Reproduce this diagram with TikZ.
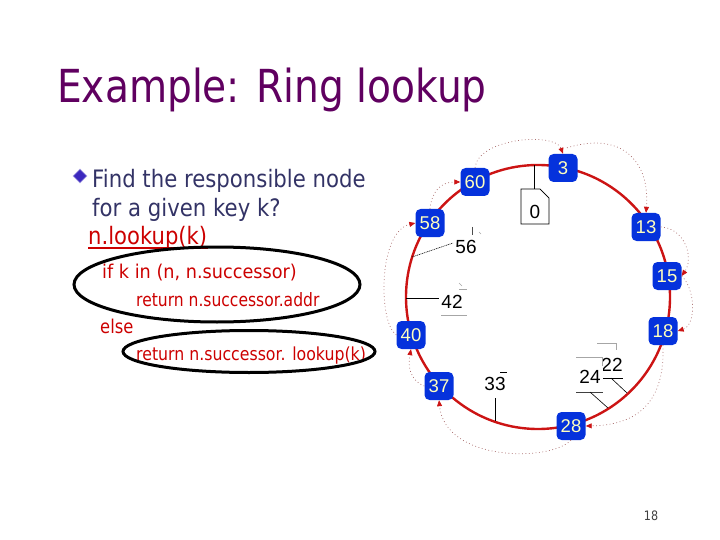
\documentclass[tikz,border=0pt]{standalone}
\usepackage{fontspec}
\usepackage{graphicx}
\setmainfont{DejaVu Sans}
\newfontfamily\arialf{Liberation Sans}
\usetikzlibrary{arrows.meta,shapes.geometric}
\definecolor{titlepurple}{RGB}{96,0,96}
\definecolor{bodyblue}{RGB}{51,51,102}
\definecolor{codered}{RGB}{204,0,0}
\definecolor{ringred}{RGB}{204,20,20}
\definecolor{nodeblue}{RGB}{5,50,220}
\definecolor{nodetext}{RGB}{255,255,190}
\definecolor{bulletblue}{RGB}{60,40,190}
\definecolor{fingercol}{RGB}{170,110,110}
\newcommand{\sqz}[2]{\scalebox{#1}[1]{#2}}
\tikzset{
  txt/.style={anchor=base west, inner sep=0pt},
  ringnode/.style={fill=nodeblue, rounded corners=5pt, minimum width=29pt, minimum height=28pt, inner sep=0pt,
    text=nodetext, font=\arialf\fontsize{18.5}{20}\selectfont},
  ringline/.style={draw=ringred, line width=2.4pt},
  finger/.style={draw=fingercol, line width=0.7pt, dash pattern=on 0.8pt off 2.6pt,
    -{Triangle[length=6pt,width=5pt,color=ringred]}},
  keylab/.style={inner sep=0pt, font=\arialf\fontsize{19}{21}\selectfont},
  keyline/.style={draw=black, line width=0.6pt},
  faint/.style={draw=gray!70, line width=0.6pt},
  circled/.style={draw=black, line width=3pt}
}
\begin{document}
\begin{tikzpicture}[x=1pt,y=-1pt]
\useasboundingbox (0,0) rectangle (720,540);

% title
\node[txt, text=titlepurple, font=\fontsize{45.5}{50}\selectfont] (title) at (57,103) {\sqz{0.86}{Example: Ring lookup}};

% bullet text
\node[diamond, fill=bulletblue, draw=bulletblue!45, line width=0.8pt, minimum size=14pt, inner sep=0pt] (bul) at (80,176) {};
\node[txt, text=bodyblue, font=\fontsize{24}{28}\selectfont] (l1) at (92,188) {\sqz{0.885}{Find the responsible node}};
\node[txt, text=bodyblue, font=\fontsize{24}{28}\selectfont] (l2) at (92,217) {\sqz{0.885}{for a given key k?}};
\node[txt, text=codered, font=\fontsize{24}{28}\selectfont] (l3) at (88,244) {\sqz{0.88}{n.lookup(k)}};
\draw[codered, line width=1.5pt] (88,248) -- (208,248);
\node[txt, text=codered, font=\fontsize{19}{22}\selectfont] (l4) at (102,278) {\sqz{0.93}{if k in (n, n.successor)}};
\node[txt, text=codered, font=\fontsize{18.4}{22}\selectfont] (l5) at (136,306) {\sqz{0.845}{return n.successor.addr}};
\node[txt, text=codered, font=\fontsize{19}{22}\selectfont] (l6) at (100,333) {\sqz{0.86}{else}};
\node[txt, text=codered, font=\fontsize{18}{22}\selectfont] (l7) at (136,360) {\sqz{0.875}{return n.successor. lookup(k)}};

% circling ellipses
\draw[circled] (217,284.5) ellipse[x radius=143pt, y radius=37.5pt];
\draw[circled] (249,351.5) ellipse[x radius=126pt, y radius=21pt];

% ring
\coordinate (c) at (538,297);
\draw[ringline] (c) circle[radius=132pt];

% key labels and their connectors
\coordinate (r0) at (534,165.1);
\draw[keyline, fill=white] (521,189) -- (540,189) -- (549,198) -- (549,224) -- (521,224) -- cycle;
\draw[keyline, line width=0.4pt] (540,189) -- (549,198);
\draw[keyline] (r0) -- (534,189);
\node[keylab] (k0) at (535,212) {0};

\coordinate (r56) at (412,257);
\node[keylab] (k56) at (466,247) {56};
\draw[keyline, dash pattern=on 1pt off 0.8pt] (r56) -- (453,243);
\draw[faint, draw=black!70] (472,227) -- (472,235);
\draw[faint] (479,232) -- (481,234);

\coordinate (r42) at (406,298);
\node[keylab] (k42) at (452,302) {42};
\draw[keyline] (r42) -- (439,298);
\draw[faint] (459,283) -- (462,286);
\draw[faint] (459,289) -- (467,289);
\draw[faint] (441,315) -- (467,315);

\coordinate (r33) at (495,421);
\node[keylab] (k33) at (495,384) {33};
\draw[keyline] (r33) -- (495,398);
\draw[keyline] (500,372) -- (507,372);

\coordinate (r22) at (627,393);
\draw[faint] (597,343) -- (616,343) -- (616,350);
\node[keylab] (k22) at (612,365) {22};
\draw[keyline] (603,378) -- (623,378);
\draw[keyline] (611,378) -- (r22);

\coordinate (r24) at (608,408);
\fill[white] (576,357) rectangle (603,392);
\draw[faint] (576,357) -- (602,357) -- (602,366);
\node[keylab] (k24) at (590,377) {24};
\draw[keyline, draw=black!75] (576,392) -- (603,392);
\draw[keyline] (590,392) -- (r24);

% ring nodes
\node[ringnode] (n3)  at (563,168) {3};
\node[ringnode] (n60) at (475,182) {60};
\node[ringnode] (n58) at (430,223) {58};
\node[ringnode] (n13) at (646,227) {13};
\node[ringnode] (n15) at (667,276) {15};
\node[ringnode] (n18) at (663,331) {18};
\node[ringnode] (n40) at (411,335) {40};
\node[ringnode] (n37) at (439,386) {37};
\node[ringnode] (n28) at (571,426) {28};

% finger pointers
\draw[finger] (n58.north) .. controls (432,190) and (442,182) .. (n60.west);
\draw[finger] (n60.north) .. controls (478,138) and (555,132) .. (n3.north);
\draw[finger] (n3.north) ++(4,-6) .. controls (625,130) and (650,165) .. (n13.north);
\draw[finger] (n13.east) .. controls (685,228) and (694,258) .. (n15.east);
\draw[finger] (n15.east) .. controls (696,290) and (696,325) .. (n18.east);
\draw[finger] (n18.south) .. controls (665,400) and (640,425) .. (n28.east);
\draw[finger] (n28.south) .. controls (550,462) and (445,462) .. (n37.south);
\draw[finger] (n37.west) .. controls (409,380) and (408,365) .. (n40.south);
\draw[finger] (n40.west) .. controls (378,322) and (378,232) .. (n58.west);

% page number
\node[inner sep=0pt, text=black!75, font=\fontsize{13}{15}\selectfont] (pg) at (651,516) {\sqz{0.86}{18}};
\end{tikzpicture}
\end{document}
